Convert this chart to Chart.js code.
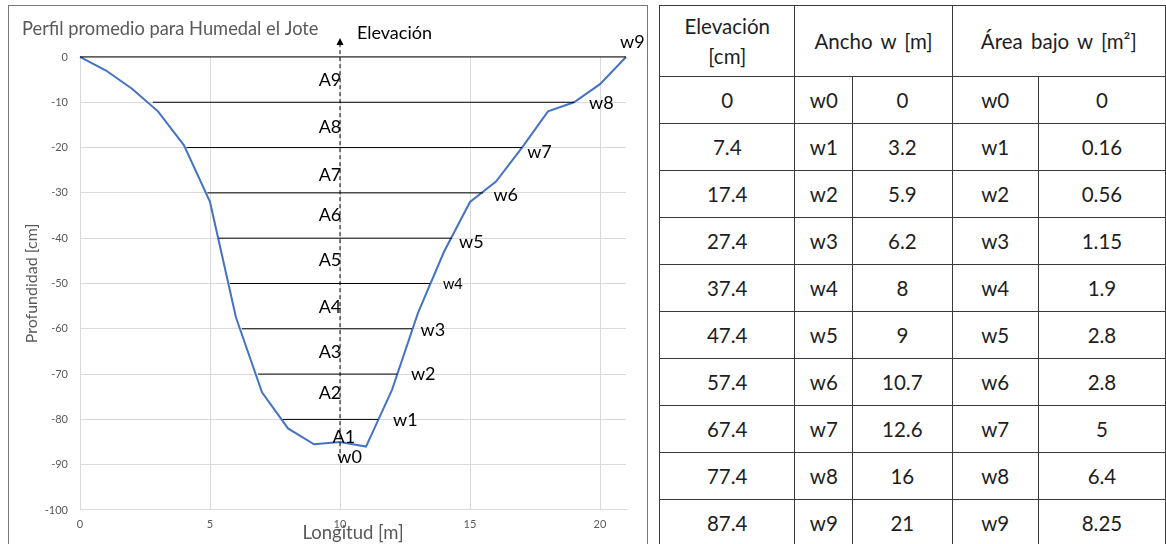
<!DOCTYPE html>
<html lang="es">
  <head>
    <meta charset="UTF-8" />
    <title>Perfil promedio para Humedal el Jote</title>
    <script src="https://cdn.jsdelivr.net/npm/chart.js@4/dist/chart.umd.min.js"></script>
    <style>
      body { margin: 0; width: 1166px; height: 544px; overflow: hidden; background: #fff; font-family: Lato, sans-serif; }
      #panel { position: absolute; left: 8px; top: 5px; width: 640px; height: 545px; border: 1px solid #767676; box-sizing: border-box; }
      #tabla { position: absolute; left: 659px; top: 5px; border-collapse: collapse; table-layout: fixed; }
      #tabla td { border: 1px solid #3a3a3a; text-align: center; padding: 0; font-size: 20.5px; word-spacing: 3px; color: #1e1e1e; }
      #tabla tr { height: 47px; }
      #tabla tr.cab { height: 71px; }
    </style>
  </head>
  <body>
    <div id="panel"><canvas id="perfil" width="638" height="539"></canvas></div>
    <table id="tabla">
      <colgroup><col style="width:136px"><col style="width:58px"><col style="width:100px"><col style="width:87px"><col style="width:128px"></colgroup>
      <tbody id="cuerpo"></tbody>
    </table>
    <script>
      // perfil (longitud en m, profundidad en cm)
      const longitud = [0, 1, 2, 3, 4, 5, 6, 7, 8, 9, 10, 11, 12, 13, 14, 15, 16, 17, 18, 19, 20, 21];
      const profundidad = [0, -3, -7, -12, -19.5, -32, -57.5, -74, -82, -85.5, -85, -86, -73.5, -56.5, -43, -32, -27.5, -20, -12, -10, -6, 0];

      // niveles horizontales (cm) y sus extremos (m)
      const niveles = [0, -10, -20, -30, -40, -50, -60, -70, -80];
      const nivelDesde = [0, 2.8, 4.1, 4.9, 5.33, 5.77, 6.23, 6.85, 7.8];
      const nivelHasta = [21, 19, 17, 15.5, 14.3, 13.46, 12.77, 12.2, 11.46];

      // tabla
      const elevacion = ["0", "7.4", "17.4", "27.4", "37.4", "47.4", "57.4", "67.4", "77.4", "87.4"];
      const nombresW = ["w0", "w1", "w2", "w3", "w4", "w5", "w6", "w7", "w8", "w9"];
      const anchoW = ["0", "3.2", "5.9", "6.2", "8", "9", "10.7", "12.6", "16", "21"];
      const areaW = ["0", "0.16", "0.56", "1.15", "1.9", "2.8", "2.8", "5", "6.4", "8.25"];

      let filas = '<tr class="cab"><td style="line-height:30px">Elevación<br>[cm]</td><td colspan="2">Ancho w [m]</td><td colspan="2">Área bajo w [m²]</td></tr>';
      elevacion.forEach((e, i) => {
        filas += `<tr><td>${e}</td><td>${nombresW[i]}</td><td>${anchoW[i]}</td><td>${nombresW[i]}</td><td>${areaW[i]}</td></tr>`;
      });
      document.getElementById("cuerpo").innerHTML = filas;

      // etiquetas del dibujo (posicion en unidades de los ejes)
      const notas = [
        { t: "A9", x: 10.05, y: -5.1, a: "right" },
        { t: "A8", x: 10.05, y: -15.5, a: "right" },
        { t: "A7", x: 10.05, y: -26, a: "right" },
        { t: "A6", x: 10.05, y: -34.9, a: "right" },
        { t: "A5", x: 10.05, y: -44.8, a: "right" },
        { t: "A4", x: 10.05, y: -55.2, a: "right" },
        { t: "A3", x: 10.05, y: -65.1, a: "right" },
        { t: "A2", x: 10.05, y: -74.2, a: "right" },
        { t: "A1", x: 10.15, y: -83.9, a: "center" },
        { t: "w0", x: 10.37, y: -88.3, a: "center" },
        { t: "w1", x: 12.04, y: -80.1, a: "left" },
        { t: "w2", x: 12.73, y: -70, a: "left" },
        { t: "w3", x: 13.1, y: -60.3, a: "left" },
        { t: "w4", x: 13.96, y: -50.1, a: "left", s: 14.5 },
        { t: "w5", x: 14.58, y: -40.8, a: "left" },
        { t: "w6", x: 15.9, y: -30.5, a: "left" },
        { t: "w7", x: 17.2, y: -21, a: "left" },
        { t: "w8", x: 19.58, y: -10.2, a: "left" },
        { t: "w9", x: 20.77, y: 3.3, a: "left" },
        { t: "Elevación", x: 10.65, y: 5.3, a: "left" }
      ];

      const rotulos = {
        id: "rotulos",
        afterDatasetsDraw(chart) {
          const { ctx, scales: { x, y } } = chart;
          ctx.save();
          ctx.fillStyle = "#000";
          ctx.textBaseline = "middle";
          notas.forEach((n) => {
            ctx.font = `${n.s || 18}px Lato`;
            ctx.textAlign = n.a;
            ctx.fillText(n.t, x.getPixelForValue(n.x), y.getPixelForValue(n.y));
          });
          // punta de flecha del eje de elevacion
          const px = x.getPixelForValue(10);
          const py = y.getPixelForValue(4.2);
          ctx.beginPath();
          ctx.moveTo(px, py);
          ctx.lineTo(px - 3.5, py + 7);
          ctx.lineTo(px + 3.5, py + 7);
          ctx.closePath();
          ctx.fill();
          ctx.restore();
        }
      };

      const lineasNivel = niveles.map((n, i) => ({
        data: [{ x: nivelDesde[i], y: n }, { x: nivelHasta[i], y: n }],
        borderColor: "#000",
        borderWidth: 1,
        pointRadius: 0,
        clip: false
      }));

      new Chart("perfil", {
        type: "line",
        data: {
          datasets: [
            ...lineasNivel,
            {
              data: [{ x: 10, y: -89 }, { x: 10, y: 3.5 }],
              borderColor: "#000",
              borderWidth: 1,
              borderDash: [4, 3],
              pointRadius: 0,
              clip: false
            },
            {
              data: longitud.map((l, i) => ({ x: l, y: profundidad[i] })),
              borderColor: "#4472C4",
              borderWidth: 2,
              pointRadius: 0,
              tension: 0,
              clip: false
            }
          ]
        },
        options: {
          responsive: false,
          animation: false,
          layout: { padding: { left: 13, right: 21, top: 0, bottom: 0 } },
          plugins: {
            legend: { display: false },
            tooltip: { enabled: false },
            title: {
              display: true,
              text: "Perfil promedio para Humedal el Jote",
              align: "start",
              color: "#595959",
              font: { family: "Lato", size: 18.3, weight: "normal" },
              padding: { top: 12.5, bottom: 16.5 }
            }
          },
          scales: {
            x: {
              type: "linear",
              min: 0,
              max: 21,
              afterFit: (s) => { s.height = 35; },
              ticks: { stepSize: 5, includeBounds: false, padding: 8, color: "#595959", font: { family: "Lato", size: 11 } },
              grid: { color: "#d9d9d9", drawTicks: false },
              border: { color: "#d9d9d9" },
              title: { display: true, text: "Longitud [m]", color: "#595959", font: { family: "Lato", size: 18.5 }, padding: { top: 0, bottom: 0.9 } }
            },
            y: {
              min: -100,
              max: 0,
              afterFit: (s) => { s.width = 58; },
              ticks: { stepSize: 10, padding: 12, color: "#595959", font: { family: "Lato", size: 11 } },
              grid: { color: "#d9d9d9", drawTicks: false },
              border: { color: "#d9d9d9" },
              title: { display: true, text: "Profundidad [cm]", color: "#595959", font: { family: "Lato", size: 16 }, padding: { top: 0.5, bottom: 0 } }
            }
          }
        },
        plugins: [rotulos]
      });
    </script>
  </body>
</html>
